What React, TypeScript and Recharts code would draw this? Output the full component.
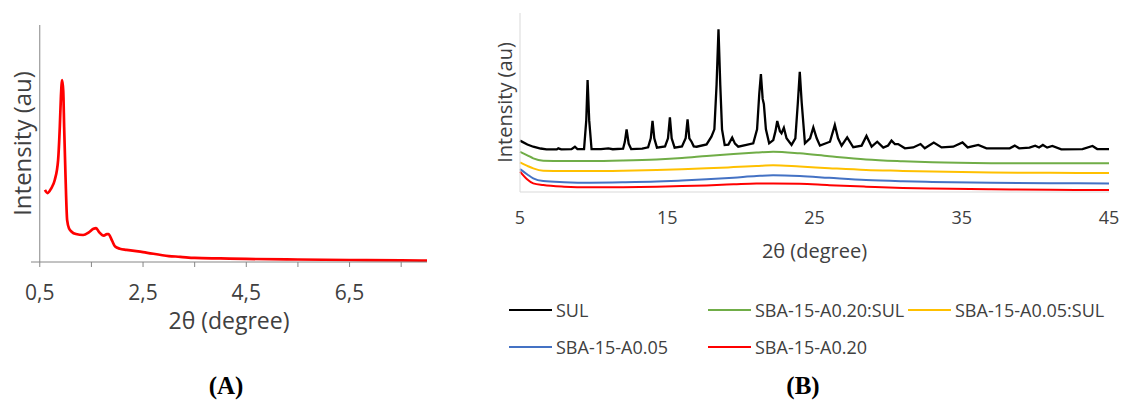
import { LineChart, Line, XAxis, YAxis, Label, Legend, ReferenceLine } from "recharts";

// panel A - low angle pattern
const lowX = [0.6, 0.65, 0.72, 0.79, 0.855, 0.888, 0.91, 0.933, 0.955, 0.972, 0.999, 1.03, 1.07, 1.116, 1.2, 1.34, 1.45, 1.54, 1.59, 1.65, 1.74, 1.8, 1.83, 1.9, 1.96, 2.05, 2.18, 2.5, 3.0, 3.22, 3.5, 4.0, 4.5, 5.5, 6.5, 7.5, 8.0];
const lowY = [30.4, 29.1, 31, 34.6, 43.0, 57.0, 70, 76.8, 72, 57, 35.9, 17.7, 14, 12.8, 11.8, 11.4, 12.5, 14.0, 14.3, 12.6, 11.1, 11.8, 11.8, 9.0, 6.5, 5.6, 5.1, 4.2, 2.5, 2.2, 1.7, 1.5, 1.3, 1.05, 0.85, 0.65, 0.6];
const lowTicks = [0.5, 1.5, 2.5, 3.5, 4.5, 5.5, 6.5, 7.5];
const lowLabelled = [0.5, 2.5, 4.5, 6.5];

// panel B - wide angle patterns
const sulX = [5.0, 5.5, 5.9, 6.4, 6.8, 7.5, 7.6, 7.8, 8.5, 8.73, 8.9, 9.35, 9.5, 9.59, 9.7, 9.86, 10.5, 11.0, 11.3, 12.0, 12.12, 12.24, 12.38, 12.55, 13.3, 13.7, 13.88, 14.0, 14.12, 14.3, 14.85, 15.05, 15.18, 15.3, 15.5, 16.0, 16.25, 16.38, 16.5, 16.65, 16.8, 17.0, 17.67, 18.0, 18.2, 18.35, 18.48, 18.6, 18.72, 18.9, 19.15, 19.41, 19.6, 19.82, 20.38, 20.84, 21.1, 21.25, 21.36, 21.48, 21.56, 21.7, 21.92, 22.2, 22.35, 22.47, 22.65, 22.76, 22.92, 23.1, 23.44, 23.7, 23.87, 24.0, 24.13, 24.35, 24.7, 24.92, 25.15, 25.37, 26.05, 26.38, 26.6, 26.84, 27.22, 27.63, 28.2, 28.53, 28.88, 29.26, 29.67, 30.0, 30.23, 30.46, 30.68, 31.14, 31.7, 32.2, 32.49, 33.1, 33.63, 34.42, 35.05, 35.4, 36.12, 36.68, 38.26, 38.6, 38.9, 39.6, 39.99, 40.25, 40.51, 40.8, 41.15, 41.76, 43.2, 43.88, 44.2, 45.0];
const sulY = [28.7, 26.5, 25.3, 24.3, 23.8, 23.8, 24.4, 23.8, 23.9, 25.3, 24.0, 24.0, 40, 62.6, 40, 23.9, 23.9, 24.4, 23.9, 24.2, 28, 35.0, 27, 24.0, 24.2, 25, 30, 39.7, 30, 24.8, 25.5, 30, 41.7, 30, 24.8, 25.5, 30, 40.6, 30, 28.1, 25.5, 25.3, 26.6, 30.9, 35, 60, 90.9, 60, 35, 26.3, 26.5, 30.4, 27, 25.3, 26.3, 27.2, 35, 55, 65.9, 52, 49.2, 35, 27.2, 29, 34, 39.7, 34, 32.8, 35.9, 30, 26.3, 30, 50, 67.2, 50, 27.2, 30, 36.1, 30, 25.9, 28.1, 37.4, 30, 25.9, 30.5, 25.0, 25.9, 31.3, 25.3, 28.1, 24.8, 26, 28.7, 26.8, 26.8, 24.4, 24.9, 26.8, 24.4, 27.6, 24.9, 25.3, 27.7, 24.9, 26.3, 24.4, 24.4, 25.9, 24.4, 24.8, 25.9, 24.9, 26.3, 24.8, 25.7, 23.8, 24.0, 25.7, 24.0, 24.0];

const broadX = [5.0, 5.5, 5.9, 6.58, 8.0, 9.75, 12.0, 14.28, 16.0, 17.67, 19.5, 21.06, 22.19, 24.0, 26.0, 28.5, 31.0, 33.0, 37.0, 41.0, 45.0];
const a20SulY = [22.5, 20.5, 18.8, 17.5, 17.3, 17.3, 17.6, 18.2, 19.0, 20.1, 21.2, 22.0, 22.5, 21.6, 20.0, 18.2, 17.2, 16.6, 16.1, 16.0, 16.0];
const a05SulY = [16.6, 14.6, 13.2, 11.9, 11.7, 11.7, 11.9, 12.3, 12.7, 13.2, 13.9, 14.5, 14.9, 14.2, 13.3, 12.3, 11.8, 11.4, 10.9, 10.7, 10.6];
const a05Y = [12.8, 9.8, 7.6, 6.1, 5.5, 5.2, 5.4, 5.8, 6.4, 7.1, 8.0, 8.9, 9.3, 8.9, 7.9, 6.7, 6.0, 5.6, 5.1, 4.9, 4.8];
const a20Y = [11.4, 7.0, 4.8, 3.9, 3.0, 2.6, 2.7, 3.0, 3.3, 3.7, 4.3, 4.8, 4.8, 4.6, 3.8, 3.0, 2.3, 1.9, 1.5, 1.2, 1.1];
const wideTicks = [5, 15, 25, 35, 45];

const seriesNames = ["SUL", "SBA-15-A0.20:SUL", "SBA-15-A0.05:SUL", "SBA-15-A0.05", "SBA-15-A0.20"];
const seriesColors = ["#000000", "#70ad47", "#ffc000", "#4472c4", "#ff0000"];

const toPoints = (xs: number[], ys: number[]) => xs.map((x, i) => ({ x, y: ys[i] }));

const lowData = toPoints(lowX, lowY);
const wideData = [
  toPoints(sulX, sulY),
  toPoints(broadX, a20SulY),
  toPoints(broadX, a05SulY),
  toPoints(broadX, a05Y),
  toPoints(broadX, a20Y),
];

const FONT = "'Open Sans', Lato, sans-serif";
const TXT = "#404040";

// legend slots: [left, top] relative to legend box
const legendSlots = [
  [29, 15], [228, 15], [428, 15],
  [29, 52], [228, 52],
];

function WideLegend(props: any) {
  const payload = props.payload || [];
  return (
    <div style={{ position: "relative", width: 641, height: 75, fontFamily: FONT, fontSize: 18, color: TXT }}>
      {payload.map((p: any) => {
        const i = seriesNames.indexOf(p.value);
        const [lx, ly] = legendSlots[i] || [0, 0];
        return (
          <div key={p.value} style={{ position: "absolute", left: lx, top: ly - 12, height: 24, display: "flex", alignItems: "center", whiteSpace: "nowrap" }}>
            <span style={{ display: "inline-block", width: 43, height: 2.5, background: p.color, marginRight: 4 }} />
            <span>{p.value}</span>
          </div>
        );
      })}
    </div>
  );
}

const captionStyle: React.CSSProperties = {
  position: "absolute",
  top: 371,
  fontFamily: "'Liberation Serif', 'Times New Roman', serif",
  fontWeight: "bold",
  fontSize: 25,
  lineHeight: "30px",
  color: "#000",
  transform: "translateX(-50%)",
};

export default function App() {
  return (
    <div style={{ position: "absolute", left: 0, top: 0, width: 1121, height: 403, background: "#fff", overflow: "hidden" }}>
      <div style={{ position: "absolute", left: 0, top: 0 }}>
        <LineChart width={440} height={403} data={lowData} margin={{ top: 25, right: 13, left: 0, bottom: 96 }}>
          <XAxis
            dataKey="x"
            type="number"
            domain={[0.33, 8]}
            ticks={lowTicks}
            interval={0}
            height={45}
            tickSize={5}
            tickMargin={18}
            stroke="#868686"
            tick={{ fill: TXT, fontSize: 21, fontFamily: FONT }}
            tickFormatter={(v: number) => (lowLabelled.includes(v) ? v.toFixed(1).replace(".", ",") : "")}
          >
            <Label value="2θ (degree)" position="bottom" offset={6} style={{ fill: TXT, fontSize: 23, fontFamily: FONT }} />
          </XAxis>
          <YAxis type="number" domain={[0, 100]} width={31} axisLine={false} tick={false} tickLine={false}>
            <Label value="Intensity (au)" angle={-90} position="insideLeft" offset={22} style={{ textAnchor: "middle", fill: TXT, fontSize: 24, fontFamily: FONT }} />
          </YAxis>
          <ReferenceLine x={0.5} stroke="#868686" strokeWidth={1} />
          <Line type="monotone" dataKey="y" stroke="#ff0000" strokeWidth={2.7} dot={false} isAnimationActive={false} />
        </LineChart>
      </div>

      <div style={{ position: "absolute", left: 480, top: 0 }}>
        <LineChart width={641} height={403} margin={{ top: 13, right: 12, left: 0, bottom: 171 }}>
          <XAxis
            dataKey="x"
            type="number"
            domain={[5, 45]}
            ticks={wideTicks}
            interval={0}
            height={40}
            tickSize={0}
            tickMargin={19}
            tickLine={false}
            stroke="#d9d9d9"
            tick={{ fill: TXT, fontSize: 18, fontFamily: FONT }}
          >
            <Label value="2θ (degree)" position="bottom" offset={12} style={{ fill: TXT, fontSize: 20, fontFamily: FONT }} />
          </XAxis>
          <YAxis type="number" domain={[0, 100]} width={40} stroke="#d9d9d9" tick={false} tickLine={false}>
            <Label value="Intensity (au)" angle={-90} position="insideLeft" offset={25} style={{ textAnchor: "middle", fill: TXT, fontSize: 20, fontFamily: FONT }} />
          </YAxis>
          {wideData.map((d, i) => (
            <Line
              key={seriesNames[i]}
              data={d}
              dataKey="y"
              name={seriesNames[i]}
              type={i === 0 ? "linear" : "monotone"}
              stroke={seriesColors[i]}
              strokeWidth={i === 0 ? 2.3 : 2}
              dot={false}
              isAnimationActive={false}
            />
          ))}
          <Legend
            layout="vertical"
            align="center"
            verticalAlign="middle"
            wrapperStyle={{ left: 0, top: 295, width: 641 }}
            content={<WideLegend />}
          />
        </LineChart>
      </div>

      <div style={{ ...captionStyle, left: 226 }}>(A)</div>
      <div style={{ ...captionStyle, left: 803 }}>(B)</div>
    </div>
  );
}
